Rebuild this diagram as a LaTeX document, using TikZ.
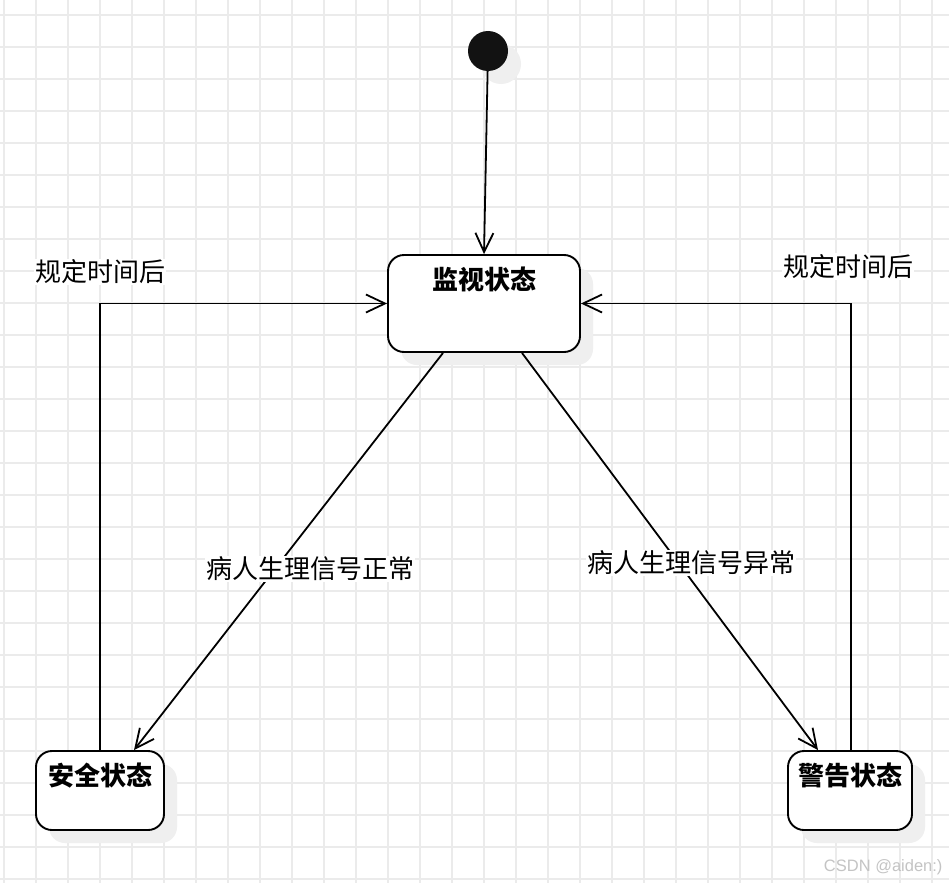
\documentclass[tikz,border=0pt]{standalone}
\usepackage{fontspec}
\newfontfamily\cjk{Noto Sans CJK SC}
\setsansfont{Liberation Sans}
\usetikzlibrary{arrows.meta,shadows}
\definecolor{gridgray}{HTML}{EBEBEB}
\definecolor{shadowgray}{HTML}{EFEFEF}
\definecolor{markgray}{HTML}{C4C4C4}

\begin{document}
\begin{tikzpicture}[x=1pt,y=-1pt,
  shade13/.style={drop shadow={shadow xshift=13pt, shadow yshift=-13pt, fill=shadowgray, opacity=1}},
  statebox/.style={draw, line width=1.9pt, rounded corners=16pt, fill=white, shade13},
  title/.style={font=\cjk\bfseries\fontsize{26}{30}\selectfont, inner sep=0pt},
  lbl/.style={font=\cjk\fontsize{26}{30}\selectfont, fill=white, inner sep=1pt},
  arr/.style={line width=1.8pt, -{Straight Barb[length=19pt,width=18pt]}}]
\useasboundingbox[fill=white] (0,0) rectangle (949,883);

% grid
\foreach \gx in {4,36,...,932}
  \draw[gridgray, line width=1.6pt] (\gx,0) -- (\gx,883);
\foreach \gy in {15,47,...,879}
  \draw[gridgray, line width=1.6pt] (0,\gy) -- (949,\gy);

% states
\node[circle, fill=black!93, minimum size=40pt, inner sep=0pt, shade13] (init) at (488,51) {};
\node[statebox, minimum width=192pt, minimum height=97pt] (mon) at (484,303.5) {};
\node[statebox, minimum width=128pt, minimum height=79pt] (safe) at (100,790.5) {};
\node[statebox, minimum width=124pt, minimum height=79pt] (warn) at (850,790.5) {};

\node[title] (montxt) at ([yshift=-25pt]mon.north) {监视状态};
\node[title] (safetxt) at ([yshift=-25pt]safe.north) {安全状态};
\node[title] (warntxt) at ([yshift=-25pt]warn.north) {警告状态};

% transitions
\draw[arr] (init) -- (mon.north);
\draw[arr] ([xshift=-41pt]mon.south) -- node[lbl, pos=0.543, xshift=35pt] {病人生理信号正常} ([xshift=34pt]safe.north);
\draw[arr] ([xshift=38pt]mon.south) -- node[lbl, pos=0.528, xshift=13pt] {病人生理信号异常} ([xshift=-32pt]warn.north);
\draw[arr] (safe) |- node[lbl, pos=0.5, yshift=31.5pt] {规定时间后} (mon);
\draw[arr] ([xshift=1pt]warn.north) |- node[lbl, pos=0.5, yshift=37pt, xshift=-3pt] {规定时间后} (mon);

\node[font=\sffamily\fontsize{16.5}{18}\selectfont, text=markgray, anchor=east] (mark) at (946,867) {CSDN @aiden:)};

\end{tikzpicture}
\end{document}
